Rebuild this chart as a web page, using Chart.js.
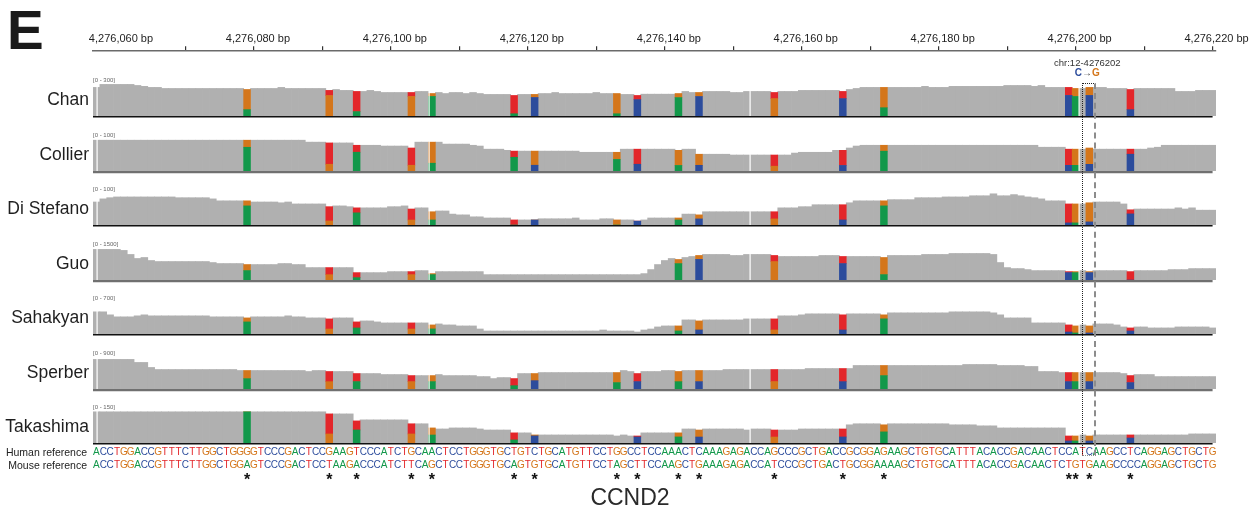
<!DOCTYPE html>
<html>
<head>
<meta charset="UTF-8">
<title>CCND2 coverage</title>
<script src="https://cdn.jsdelivr.net/npm/chart.js"></script>
<style>
  body { margin: 0; background: #fff; }
  * { font-family: "Liberation Sans", Arial, Helvetica, sans-serif; }
  #wrap { position: relative; width: 1250px; height: 510px; overflow: hidden; }
  #wrap canvas { position: absolute; left: 0; }
  .lbl { position: absolute; white-space: nowrap; line-height: 1; }
</style>
</head>
<body>
<div id="wrap">
  <canvas id="axis" width="1250" height="110" style="top:0"></canvas>
  <canvas id="seq" width="1250" height="46" style="top:444px"></canvas>
  <div class="lbl" style="left:7px;top:3px;font-size:55px;font-weight:bold;color:#1a1a1a">E</div>
</div>
<script>
// ---- data ----
const startBp = 4276057; // first base in view
const humanRef = "ACCTGGACCGTTTCTTGGCTGGGGTCCCGACTCCGAAGTCCCATCTGCAACTCCTGGGTGCTGTCTGCATGTTCCTGGCCTCCAAACTCAAAGAGACCAGCCCGCTGACCGCGGAGAAGCTGTGCATTTACACCGACAACTCCATCAAGCCTCAGGAGCTGCTG";
const mouseRef = "ACCTGGACCGTTTCTTGGCTGGAGTCCCGACTCCTAAGACCCATCTTCAGCTCCTGGGTGCAGTGTGCATGTTCCTAGCTTCCAAGCTGAAAGAGACCATCCCGCTGACTGCGGAAAAGCTGTGCATTTACACCGACAACTCTGTGAAGCCCCAGGAGCTGCTG";
const axisLabels = [4276060, 4276080, 4276100, 4276120, 4276140, 4276160, 4276180, 4276200, 4276220];
const variantBp = 4276202;
const variantLabel = "chr:12-4276202";
const geneName = "CCND2";

const trackNames = ["Chan", "Collier", "Di Stefano", "Guo", "Sahakyan", "Sperber", "Takashima"];
const trackRanges = [300, 100, 100, 1500, 700, 900, 150];
// thin white seams IGV leaves between some columns
const seamBp = [4276057.08, 4276105.5, 4276152.5, 4276200.5];

// read depth per base
const chanCov = [220,243,243,243,243,243,235,228,220,220,
  212,212,212,212,212,212,212,212,212,212,
  212,212,204,212,212,212,212,220,212,212,
  212,212,212,212,197,204,197,197,189,189,
  197,189,181,181,181,181,181,189,189,173,
  181,173,181,181,173,181,173,166,166,166,
  166,158,166,166,166,173,173,181,173,173,
  173,173,173,181,173,173,173,166,166,158,
  168,168,168,168,168,173,189,181,181,189,
  189,189,189,181,181,189,189,189,189,181,
  189,189,189,197,197,197,197,197,197,189,
  204,212,220,220,220,220,220,220,220,220,
  220,228,220,220,220,228,228,228,228,228,
  228,228,228,235,235,235,235,228,235,220,
  220,220,220,212,212,220,220,220,212,212,
  212,204,212,212,212,212,212,212,189,189,
  189,197,197,197];
const collierCov = [79,79,79,79,79,79,79,79,79,79,
  79,79,79,79,79,79,79,79,79,79,
  79,79,79,79,79,79,79,79,79,79,
  79,74,74,74,72,72,72,72,66,66,
  66,66,64,64,64,64,59,74,74,74,
  74,69,69,69,69,66,64,56,56,56,
  53,51,51,51,51,51,51,51,51,51,
  51,48,48,48,48,48,48,56,56,56,
  56,56,56,56,56,53,56,56,43,43,
  43,43,43,41,41,41,41,41,41,41,
  41,41,46,48,48,48,48,48,53,53,
  59,64,66,66,66,66,66,66,66,66,
  66,66,66,66,66,66,66,66,66,66,
  66,66,66,66,66,66,66,66,61,61,
  61,61,56,56,56,59,56,56,56,56,
  56,56,56,56,59,61,66,66,66,66,
  66,66,66,66];
const diStefanoCov = [59,67,70,72,72,72,72,72,72,72,
  72,72,70,70,70,70,70,67,62,62,
  62,62,62,59,59,59,59,57,59,54,
  54,54,54,54,47,49,49,47,44,44,
  44,44,44,47,47,49,41,44,44,34,
  36,36,28,26,26,21,21,18,18,18,
  18,13,13,13,13,16,16,16,16,16,
  18,13,13,13,16,16,13,13,13,10,
  13,18,18,18,18,18,28,28,26,34,
  34,34,34,34,34,34,34,34,34,34,
  44,44,44,47,47,52,52,52,52,52,
  57,62,62,62,62,62,65,65,65,65,
  70,70,70,70,72,72,72,72,75,75,
  75,80,75,75,78,75,72,70,67,62,
  62,62,54,54,54,57,59,59,59,59,
  54,39,41,41,41,41,41,41,44,41,
  44,38,38,38];
const guoCov = [1177,1177,1177,1177,1138,983,828,866,750,711,
  711,711,711,711,711,711,711,672,634,634,
  634,634,595,595,595,595,595,634,634,595,
  595,478,478,478,478,478,478,478,284,284,
  284,284,284,323,323,323,323,362,362,246,
  323,323,323,323,323,323,323,207,207,207,
  207,207,207,207,207,207,207,207,207,207,
  207,207,207,207,207,207,207,207,207,207,
  246,401,595,750,828,789,866,905,944,983,
  983,983,983,944,944,983,983,983,983,944,
  905,905,905,905,905,905,944,944,944,905,
  905,905,905,905,905,866,944,944,944,944,
  944,983,983,983,983,1021,1021,1021,1021,1021,
  1021,983,672,478,440,440,401,362,362,362,
  362,362,323,323,362,323,362,362,362,362,
  362,323,362,362,362,362,362,401,401,401,
  440,440,440,440];
const sahakyanCov = [398,398,344,308,308,308,326,344,326,326,
  326,326,326,326,326,326,326,308,308,308,
  308,308,289,308,308,308,308,308,326,308,
  308,289,289,289,271,289,289,289,217,235,
  235,217,199,199,199,199,199,199,199,163,
  181,163,163,145,145,145,90,54,54,54,
  54,54,54,54,54,54,54,54,54,54,
  54,54,54,54,72,54,54,54,54,36,
  72,90,127,145,145,145,253,253,235,253,
  253,253,253,253,253,271,271,271,271,271,
  326,326,326,344,362,362,362,362,362,344,
  362,362,362,362,362,344,380,380,380,380,
  380,380,380,380,380,398,398,398,398,398,
  398,380,344,289,289,289,289,199,199,199,
  199,199,163,145,163,145,181,181,181,163,
  127,109,127,127,109,109,109,109,127,127,
  127,127,127,109];
const sperberCov = [683,683,683,683,683,683,613,613,497,450,
  450,450,450,450,450,450,450,450,450,450,
  450,427,427,427,427,427,427,427,427,427,
  427,404,427,427,404,404,404,404,357,357,
  357,357,334,334,334,334,310,310,310,310,
  334,310,310,310,310,310,287,287,241,264,
  264,241,357,357,357,380,380,380,380,380,
  380,380,380,380,380,380,380,427,404,357,
  404,404,404,427,427,404,427,427,427,427,
  427,427,450,450,450,450,450,450,450,450,
  450,450,450,450,473,473,473,473,473,473,
  473,543,543,543,543,543,543,543,543,543,
  543,543,543,543,543,543,543,566,566,566,
  566,566,543,543,543,543,520,520,404,404,
  404,380,380,380,380,380,380,380,380,380,
  357,310,334,334,334,287,287,287,287,287,
  287,287,287,287];
const takashimaCov = [120,120,120,120,120,120,120,120,120,120,
  120,120,120,120,120,120,120,120,120,120,
  120,120,120,120,120,120,120,120,120,120,
  120,120,120,120,112,112,112,112,85,89,
  89,89,89,89,89,89,74,74,74,58,
  54,54,58,58,58,58,54,50,50,50,
  50,39,39,39,31,31,31,31,31,31,
  31,31,31,31,31,31,27,31,27,27,
  39,39,39,39,39,39,54,54,50,54,
  54,54,54,54,54,50,54,54,54,50,
  50,50,50,54,54,54,54,54,54,54,
  70,74,74,74,74,70,74,74,74,74,
  74,74,74,74,74,70,70,70,70,66,
  66,66,58,58,58,58,58,58,58,58,
  58,58,27,27,31,27,31,31,31,31,
  31,31,31,31,31,31,31,31,31,31,
  35,35,35,35];

// share of reads carrying the human base at each human/mouse difference (null = not flagged)
const chanHuman = [0.76,0.80,0.82,0.83,0.87,0.89,0.86,0.90,0.80,0.82,0.83,0.74,0.71,0.71,0.72,0.71,0.72,0.76];
const collierHuman = [0.23,0.24,0.27,0.25,0.27,0.31,0.29,0.38,0.31,0.27,0.34,0.30,0.27,0.23,0.26,0.26,0.29,0.23];
const diStefanoHuman = [0.21,0.22,0.29,0.31,0.38,1,1,1,1,0.71,0.60,0.46,0.25,0.21,0.10,0.10,0.14,0.27];
const guoHuman = [0.39,0.43,0.68,0.64,0.84,null,null,null,null,0.80,0.84,0.75,0.70,0.76,0.88,0.88,0.88,1];
const sahakyanHuman = [0.25,0.33,0.50,0.45,0.56,null,null,null,null,0.38,0.31,0.27,0.21,0.21,0.22,0.13,0.13,0.50];
const sperberHuman = [0.44,0.42,0.52,0.55,0.55,0.68,0.54,0.61,0.48,0.42,0.40,0.38,0.36,0.43,0.45,0.45,0.45,0.52];
const takashimaHuman = [0,0.31,0.41,0.47,0.53,0.70,0.88,null,0.86,0.60,0.46,0.46,0.43,0.39,0.29,0.29,0.29,0.38];

const coverage = [chanCov, collierCov, diStefanoCov, guoCov, sahakyanCov, sperberCov, takashimaCov];
const humanShare = [chanHuman, collierHuman, diStefanoHuman, guoHuman, sahakyanHuman, sperberHuman, takashimaHuman];

// ---- look ----
const baseColors = { A: "#12984a", C: "#2c4c9c", G: "#d4761b", T: "#e3262a" };
const GREY = "#b0b0b0";
const LEFT = 93, RIGHT = 34;
const FIRST_BASELINE = 116, TRACK_STEP = 54.5, TRACK_H = 39;
const lineStyle = [["#111", 1.4], ["#707070", 2.2], ["#111", 1.4], ["#707070", 2.2], ["#111", 1.4], ["#707070", 2.2], ["#111", 1.4]];

Chart.defaults.font.family = '"Liberation Sans", Arial, Helvetica, sans-serif';

const wrap = document.getElementById("wrap");
const sites = [];
for (let i = 0; i < humanRef.length; i++) if (humanRef[i] !== mouseRef[i]) sites.push(i);

const xBase = {
  type: "linear",
  min: startBp - 0.5,
  max: startBp + humanRef.length - 0.5,
  offset: false,
  stacked: true
};

function addLabel(text, css) {
  const d = document.createElement("div");
  d.className = "lbl";
  d.textContent = text;
  Object.assign(d.style, css);
  wrap.appendChild(d);
  return d;
}

// ---- top ruler ----
const axisChart = new Chart(document.getElementById("axis"), {
  type: "scatter",
  data: { datasets: [{ data: [] }] },
  options: {
    responsive: false,
    devicePixelRatio: 1,
    animation: false,
    layout: { padding: { left: LEFT, right: RIGHT, top: 31, bottom: 0 } },
    plugins: { legend: { display: false }, tooltip: { enabled: false } },
    scales: {
      x: {
        ...xBase,
        position: "top",
        border: { display: true, color: "#6a6a6a", width: 1.6 },
        grid: {
          drawOnChartArea: false,
          drawTicks: true,
          tickLength: 5,
          lineWidth: 1.2,
          color: (c) => (c.tick && c.tick.value === axisLabels[0] ? "rgba(0,0,0,0)" : "#333")
        },
        ticks: {
          stepSize: 10,
          includeBounds: false,
          autoSkip: false,
          maxRotation: 0,
          padding: 1,
          labelOffset: 4,
          color: "#1e1e1e",
          font: { size: 11 },
          callback: (v) => (axisLabels.includes(v) ? Number(v).toLocaleString("en-US") + " bp" : "")
        }
      },
      y: { display: false, min: 0, max: 1 }
    }
  }
});

// ---- coverage tracks ----
const baseLine = {
  id: "baseLine",
  afterDatasetsDraw(chart, args, opts) {
    const { ctx, chartArea } = chart;
    const x = chart.scales.x;
    ctx.save();
    ctx.fillStyle = "#fff";
    seamBp.forEach((bp) => ctx.fillRect(Math.round(x.getPixelForValue(bp)) - 0.5, chartArea.top, 1.2, chartArea.height));
    ctx.strokeStyle = opts.color;
    ctx.lineWidth = opts.width;
    ctx.beginPath();
    ctx.moveTo(chartArea.left, chartArea.bottom + opts.width / 2);
    ctx.lineTo(x.getPixelForValue(startBp + humanRef.length - 1), chartArea.bottom + opts.width / 2);
    ctx.stroke();
    ctx.restore();
  }
};

trackNames.forEach((name, k) => {
  const baseline = Math.round(FIRST_BASELINE + k * TRACK_STEP);
  const canvas = document.createElement("canvas");
  canvas.width = 1250;
  canvas.height = TRACK_H + 4;
  canvas.style.top = baseline - TRACK_H + "px";
  wrap.appendChild(canvas);

  const parts = { A: [], C: [], G: [], T: [], grey: [] };
  coverage[k].forEach((v, i) => {
    const bp = startBp + i;
    const s = sites.indexOf(i);
    const share = s < 0 ? null : humanShare[k][s];
    if (share === null) { parts.grey.push({ x: bp, y: v }); return; }
    parts[humanRef[i]].push({ x: bp, y: v * share });
    parts[mouseRef[i]].push({ x: bp, y: v * (1 - share) });
  });

  const ds = (data, color) => ({
    data, backgroundColor: color, borderWidth: 0,
    barPercentage: 1, categoryPercentage: 1
  });

  new Chart(canvas, {
    type: "bar",
    data: {
      datasets: [
        ds(parts.A, baseColors.A), ds(parts.C, baseColors.C),
        ds(parts.G, baseColors.G), ds(parts.T, baseColors.T),
        ds(parts.grey, GREY)
      ]
    },
    options: {
      responsive: false,
      devicePixelRatio: 1,
      animation: false,
      layout: { padding: { left: LEFT, right: RIGHT, top: 0, bottom: 4 } },
      plugins: {
        legend: { display: false },
        tooltip: { enabled: false },
        baseLine: { color: lineStyle[k][0], width: lineStyle[k][1] }
      },
      scales: {
        x: { ...xBase, display: false },
        y: { display: false, stacked: true, min: 0, max: trackRanges[k] }
      }
    },
    plugins: [baseLine]
  });

  addLabel(name, { left: "0px", width: "89px", textAlign: "right", top: baseline - 16 + "px",
    transform: "translateY(-50%)", fontSize: "17.5px", color: "#1f1f1f" });
  addLabel("[0 - " + trackRanges[k] + "]", { left: "93px", top: baseline - 39 + "px",
    fontSize: "6px", color: "#666" });
});

// ---- reference sequences ----
const seqRows = {
  id: "seqRows",
  afterDraw(chart) {
    const { ctx, chartArea } = chart;
    const x = chart.scales.x;
    ctx.save();
    ctx.textAlign = "center";
    ctx.textBaseline = "middle";
    ctx.font = '10px "Liberation Sans", Arial, sans-serif';
    for (let i = 0; i < humanRef.length; i++) {
      const px = x.getPixelForValue(startBp + i);
      ctx.fillStyle = baseColors[humanRef[i]];
      ctx.fillText(humanRef[i], px, chartArea.top + 7.8);
      ctx.fillStyle = baseColors[mouseRef[i]];
      ctx.fillText(mouseRef[i], px, chartArea.top + 20.8);
    }
    ctx.font = 'bold 16px "Liberation Sans", Arial, sans-serif';
    ctx.fillStyle = "#111";
    ctx.textBaseline = "alphabetic";
    sites.forEach((i) => ctx.fillText("*", x.getPixelForValue(startBp + i), chartArea.top + 40.5));
    ctx.restore();
  }
};

new Chart(document.getElementById("seq"), {
  type: "scatter",
  data: { datasets: [{ data: [] }] },
  options: {
    responsive: false,
    devicePixelRatio: 1,
    animation: false,
    layout: { padding: { left: LEFT, right: RIGHT, top: 0, bottom: 0 } },
    plugins: { legend: { display: false }, tooltip: { enabled: false } },
    scales: { x: { ...xBase, display: false }, y: { display: false, min: 0, max: 1 } }
  },
  plugins: [seqRows]
});

addLabel("Human reference", { left: "0px", width: "87px", textAlign: "right", top: "446.5px", fontSize: "10.5px", color: "#222" });
addLabel("Mouse reference", { left: "0px", width: "87px", textAlign: "right", top: "459.5px", fontSize: "10.5px", color: "#222" });
addLabel(geneName, { left: "530px", width: "200px", textAlign: "center", top: "486px", fontSize: "23px", color: "#2a2a2a" });

// ---- highlighted variant ----
const ax = axisChart.scales.x;
const boxL = ax.getPixelForValue(variantBp - 1);
const boxR = ax.getPixelForValue(variantBp + 1);
const box = document.createElement("div");
Object.assign(box.style, {
  position: "absolute", left: boxL + "px", top: "83px", width: boxR - boxL + "px", height: "373px",
  borderLeft: "1.4px dotted #222", borderTop: "1.4px dotted #222",
  borderRight: "2px dashed #8c8c8c", borderBottom: "1px dotted #8c8c8c", boxSizing: "border-box"
});
wrap.appendChild(box);
const mid = ax.getPixelForValue(variantBp) - 2;
addLabel(variantLabel, { left: mid - 60 + "px", width: "120px", textAlign: "center", top: "57.5px", fontSize: "9.5px", color: "#333" });
const sub = addLabel("", { left: mid - 30 + "px", width: "60px", textAlign: "center", top: "68px", fontSize: "10px", fontWeight: "bold" });
sub.innerHTML = '<span style="color:' + baseColors.C + '">C</span><span style="color:#444;font-weight:normal">\u2192</span><span style="color:' + baseColors.G + '">G</span>';
</script>
</body>
</html>
